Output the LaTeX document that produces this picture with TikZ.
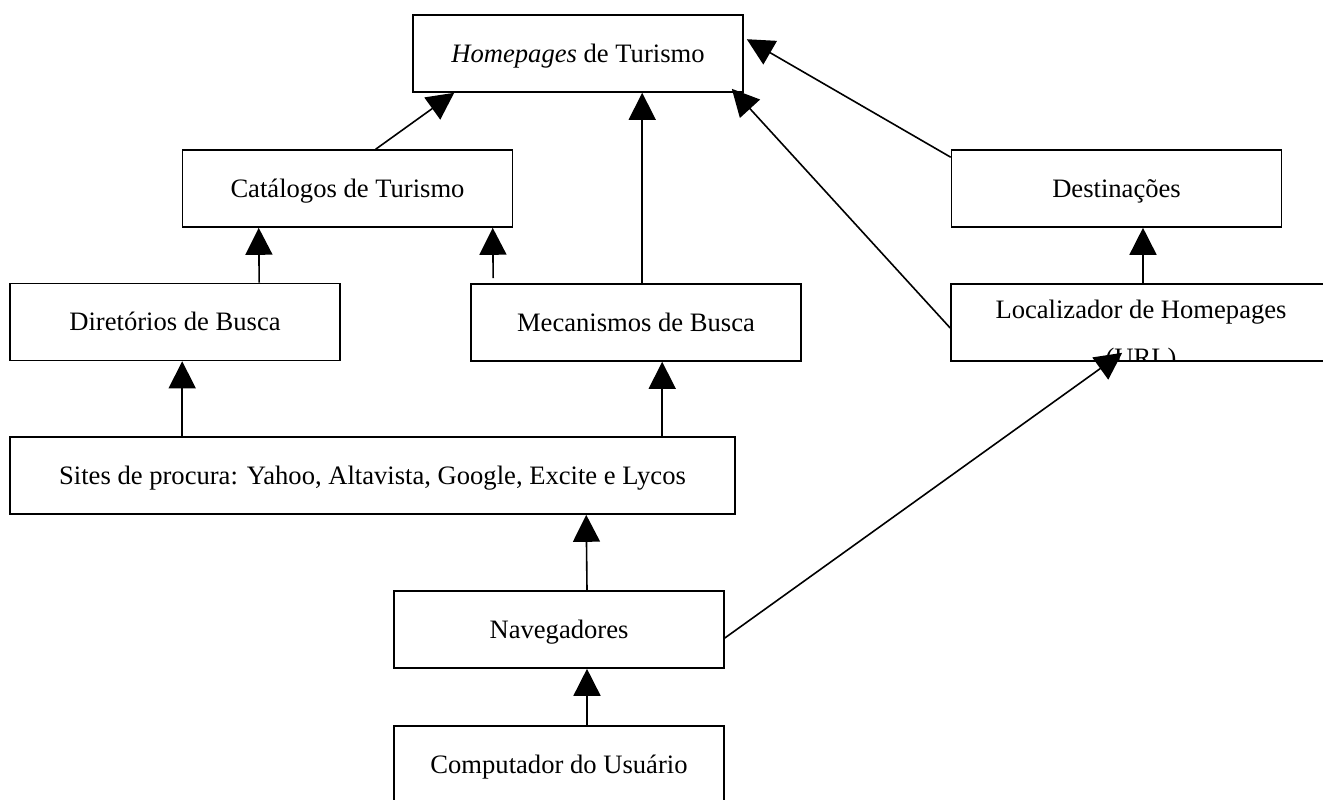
\documentclass[tikz,border=0pt]{standalone}
\usepackage{fontspec}
\setmainfont{Liberation Serif}
\usepackage{tikz}
\usetikzlibrary{arrows.meta}
\usetikzlibrary{calc}

\begin{document}
\begin{tikzpicture}[x=0.5pt, y=-0.5pt,
  box/.style={draw, rectangle, line width=0.8pt, minimum width=165pt, minimum height=38.5pt,
    inner sep=0pt, text height=8.8pt, text depth=0pt, font=\fontsize{13.3}{16}\selectfont},
  wide/.style={minimum width=#1},
  lbl/.style={inner sep=0pt, anchor=base, font=\fontsize{13.3}{16}\selectfont},
  arr/.style={-{Triangle[length=13.5pt, width=13.5pt]}, line width=0.8pt}]
  \useasboundingbox (0,0) rectangle (1323,799);
  \clip (0,0) rectangle (1323,799);

  \node[box] (home) at (578,53.5) {\textit{Homepages} de Turismo};
  \node[box] (cat) at (347.5,188.5) {Catálogos de Turismo};
  \node[box] (dest) at (1116.5,188.5) {Destinações};
  \node[box] (dir) at (175,322) {Diretórios de Busca};
  \node[box] (mec) at (636,322.5) {Mecanismos de Busca};
  \node[box, wide=190pt] (loc) at (1141,322.5) {};
  \begin{scope}
    \clip (loc.south west) rectangle (loc.north east);
    \node[lbl] (loc1) at (1141,318) {Localizador de Homepages};
    \node[lbl] (loc2) at (1141,366) {(URL)};
  \end{scope}
  \node[box, wide=362.5pt] (sites) at (372.5,475.5) {Sites de procura: Yahoo, Altavista, Google, Excite e Lycos};
  \node[box] (nav) at (559,629.5) {Navegadores};
  \node[box] (comp) at (559,764.5) {Computador do Usuário};

  \coordinate (gap) at ($(mec.north west)+(23,-5)$);

  \draw[arr] ($(cat.north west)+(194,0)$) -- ($(home.south west)+(42,0)$);
  \draw[arr] ($(mec.north west)+(172,0)$) -- ($(home.south west)+(230,0)$);
  \draw[arr] ($(loc.west)+(0,5.5)$) -- ($(home.south east)+(-12,-4)$);
  \draw[arr] ($(dest.north west)+(0,8)$) -- ($(home.north east)+(3,25)$);
  \draw[arr] ($(dir.north west)+(250,0)$) -- ($(cat.south west)+(77,0)$);
  \draw[arr] (gap) -- ($(cat.south west)+(311,0)$);
  \draw[arr] ($(loc.north)+(2,0)$) -- ($(dest.south)+(26.5,0)$);
  \draw[arr] ($(sites.north west)+(173,0)$) -- ($(dir.south west)+(173,0)$);
  \draw[arr] ($(sites.north west)+(653,0)$) -- ($(mec.south west)+(192,0)$);
  \draw[arr] ($(nav.north)+(28,0)$) -- ($(sites.south west)+(577,0)$);
  \draw[arr] ($(comp.north)+(28,0)$) -- ($(nav.south)+(28,0)$);
  \draw[arr] ($(nav.east)+(0,8.5)$) -- ($(loc.south west)+(172,-9)$);
\end{tikzpicture}
\end{document}
